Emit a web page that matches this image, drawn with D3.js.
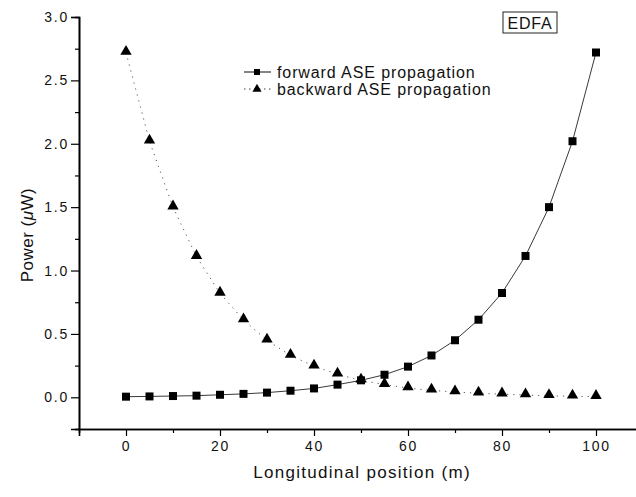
<!DOCTYPE html>
<html>
<head>
<meta charset="utf-8">
<script src="https://cdn.jsdelivr.net/npm/d3@7"></script>
<style>
  body { margin: 0; background: #fff; }
  svg { font-family: "Liberation Sans", Arial, sans-serif; }
</style>
</head>
<body>
<div id="chart"></div>
<script>
/* DATA */
const positions = [0, 5, 10, 15, 20, 25, 30, 35, 40, 45, 50, 55, 60, 65, 70, 75, 80, 85, 90, 95, 100];
const forwardASE = [0.005, 0.007, 0.01, 0.013, 0.02, 0.027, 0.037, 0.052, 0.07, 0.1, 0.134, 0.178, 0.242, 0.33, 0.45, 0.612, 0.823, 1.115, 1.5, 2.02, 2.72];
const backwardASE = [2.72, 2.02, 1.5, 1.11, 0.82, 0.61, 0.45, 0.33, 0.245, 0.182, 0.134, 0.1, 0.073, 0.055, 0.042, 0.032, 0.025, 0.018, 0.012, 0.008, 0.005];
const xTicks = [0, 20, 40, 60, 80, 100];
const yTicks = [0, 0.5, 1.0, 1.5, 2.0, 2.5, 3.0];
const seriesNames = ["forward ASE propagation", "backward ASE propagation"];

/* CONSTANTS */
const width = 636, height = 497;
const margin = { top: 17, right: -7, bottom: 68, left: 79 };

const svg = d3.select("#chart").append("svg")
  .attr("width", width)
  .attr("height", height);

const xScale = d3.scaleLinear()
  .domain([-10, 110])
  .range([margin.left, width - margin.right]);

const yScale = d3.scaleLinear()
  .domain([-0.25, 3.0])
  .range([height - margin.bottom, margin.top]);

// axes
const xAxis = d3.axisBottom(xScale).tickValues(xTicks).tickSize(7).tickPadding(5).tickFormat(d3.format("d"));
const xMinor = d3.axisBottom(xScale).tickValues(d3.range(10, 101, 20)).tickSize(4).tickFormat("");
const yAxis = d3.axisLeft(yScale).tickValues(yTicks).tickSize(8).tickPadding(2).tickFormat(d3.format(".1f"));
const yMinor = d3.axisLeft(yScale).tickValues(d3.range(-0.25, 3.0, 0.5)).tickSize(4).tickFormat("");

function styleAxis(g) {
  g.select(".domain").attr("stroke", "#000").attr("stroke-width", 1.6);
  g.selectAll(".tick line").attr("stroke", "#000").attr("stroke-width", 1.2);
  g.selectAll(".tick text")
    .attr("fill", "#111")
    .attr("font-size", 14)
    .attr("letter-spacing", "1.8px");
}

svg.append("g")
  .attr("transform", `translate(0, ${height - margin.bottom})`)
  .call(xAxis).call(styleAxis);
svg.append("g")
  .attr("transform", `translate(0, ${height - margin.bottom})`)
  .call(xMinor).call(styleAxis);
svg.append("g")
  .attr("transform", `translate(${margin.left}, 0)`)
  .call(yAxis).call(styleAxis);
svg.append("g")
  .attr("transform", `translate(${margin.left}, 0)`)
  .call(yMinor).call(styleAxis);

// axis titles
svg.append("text")
  .attr("x", xScale(50) + 1)
  .attr("y", 478)
  .attr("text-anchor", "middle")
  .attr("font-size", 17)
  .attr("letter-spacing", "1.3px")
  .attr("fill", "#111")
  .text("Longitudinal position (m)");

const yTitle = svg.append("text")
  .attr("transform", `translate(33, ${yScale(1.28)}) rotate(-90)`)
  .attr("text-anchor", "middle")
  .attr("font-size", 17)
  .attr("letter-spacing", "0.5px")
  .attr("fill", "#111");
yTitle.append("tspan").text("Power (");
yTitle.append("tspan").attr("font-style", "italic").text("\u03BC");
yTitle.append("tspan").text("W)");

// lines
const fwd = positions.map((p, i) => ({ x: p, y: forwardASE[i] }));
const bwd = positions.map((p, i) => ({ x: p, y: backwardASE[i] }));

const line = d3.line().x(d => xScale(d.x)).y(d => yScale(d.y));

svg.append("path")
  .datum(fwd)
  .attr("d", line)
  .attr("fill", "none")
  .attr("stroke", "#222")
  .attr("stroke-width", 0.9);

svg.append("path")
  .datum(bwd)
  .attr("d", line)
  .attr("fill", "none")
  .attr("stroke", "#444")
  .attr("stroke-width", 0.9)
  .attr("stroke-dasharray", "1.2,5");

// markers
const square = d3.symbol().type(d3.symbolSquare).size(64);
const triangle = d3.symbol().type(d3.symbolTriangle).size(56);

svg.selectAll(".fwd")
  .data(fwd)
  .join("path")
  .attr("class", "fwd")
  .attr("d", square)
  .attr("transform", d => `translate(${xScale(d.x)}, ${yScale(d.y)})`)
  .attr("fill", "#000");

svg.selectAll(".bwd")
  .data(bwd)
  .join("path")
  .attr("class", "bwd")
  .attr("d", triangle)
  .attr("transform", d => `translate(${xScale(d.x)}, ${yScale(d.y) - 1})`)
  .attr("fill", "#000");

// legend
const legend = svg.append("g").attr("transform", "translate(244, 72)");
[0, 1].forEach(i => {
  const row = legend.append("g").attr("transform", `translate(0, ${i * 17})`);
  row.append("line")
    .attr("x1", 0).attr("x2", 27).attr("y1", 0).attr("y2", 0)
    .attr("stroke", i === 0 ? "#222" : "#444")
    .attr("stroke-width", 1.1)
    .attr("stroke-dasharray", i === 0 ? null : "1.5,3.5");
  row.append("path")
    .attr("d", i === 0 ? d3.symbol().type(d3.symbolSquare).size(36)() : d3.symbol().type(d3.symbolTriangle).size(36)())
    .attr("transform", `translate(13, 0)`)
    .attr("fill", "#000");
  row.append("text")
    .attr("x", 33)
    .attr("y", 5.5)
    .attr("font-size", 16)
    .attr("letter-spacing", "0.9px")
    .attr("fill", "#111")
    .text(seriesNames[i]);
});

// EDFA label box
svg.append("rect")
  .attr("x", 503).attr("y", 12)
  .attr("width", 54).attr("height", 21)
  .attr("fill", "none")
  .attr("stroke", "#222")
  .attr("stroke-width", 1);
svg.append("text")
  .attr("x", 530).attr("y", 28.5)
  .attr("text-anchor", "middle")
  .attr("font-size", 16)
  .attr("letter-spacing", "0.8px")
  .attr("fill", "#111")
  .text("EDFA");
</script>
</body>
</html>
